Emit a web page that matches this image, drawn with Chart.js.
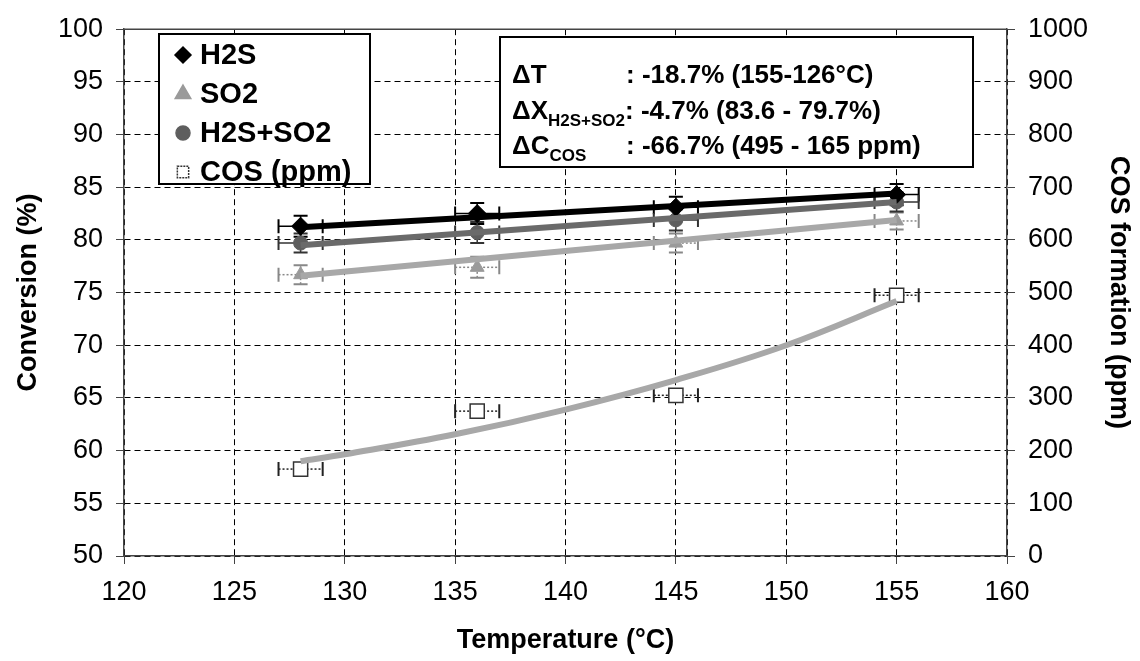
<!DOCTYPE html>
<html>
<head>
<meta charset="utf-8">
<script src="https://cdn.jsdelivr.net/npm/chart.js@4.4.1/dist/chart.umd.min.js"></script>
<style>
  html, body { margin: 0; padding: 0; background: #fff; }
</style>
</head>
<body>
<canvas id="convChart" width="1140" height="661"></canvas>
<script>
// measured points
const temps = [128, 136, 145, 155];
const h2s = [81.3, 82.5, 83.1, 84.3];
const so2 = [76.7, 77.4, 79.7, 81.8];
const h2sSo2 = [79.7, 80.7, 81.9, 83.6];
const cosPpm = [165, 275, 305, 495];

// error bars
const tempErr = [1, 1, 1, 1];
const h2sErr = [1.0, 1.0, 1.0, 1.0];
const so2Err = [0.9, 1.0, 0.9, 0.8];
const h2sSo2Err = [0.9, 1.0, 1.0, 0.9];

// trend lines
const trendTemps = [128, 155];
const h2sTrend = [81.2, 84.4];
const so2Trend = [76.6, 81.9];
const h2sSo2Trend = [79.5, 83.6];
const cosTrendTemps = [128, 130, 135, 140, 145, 150, 155];
const cosTrend = [180, 193, 231, 278, 334, 400, 484];

const FONT = "'Liberation Sans', Arial, sans-serif";

const pts = (xs, ys) => xs.map((x, i) => ({ x: x, y: ys[i] }));

const errorBars = {
    id: "errorBars",
    beforeDatasetsDraw(chart) {
        const ctx = chart.ctx;
        chart.data.datasets.forEach(ds => {
            if (!ds.errX) return;
            const ys = chart.scales[ds.yAxisID || "y"];
            const xs = chart.scales.x;
            ds.data.forEach((p, i) => {
                const px = xs.getPixelForValue(p.x);
                const py = ys.getPixelForValue(p.y);
                ctx.save();
                ctx.strokeStyle = ds.errColor;
                ctx.lineWidth = 1.5;
                ctx.setLineDash(ds.errDash || []);
                const x0 = xs.getPixelForValue(p.x - ds.errX[i]);
                const x1 = xs.getPixelForValue(p.x + ds.errX[i]);
                ctx.beginPath();
                ctx.moveTo(x0, py); ctx.lineTo(x1, py);
                ctx.stroke();
                ctx.setLineDash([]);
                ctx.lineWidth = 2;
                ctx.beginPath();
                ctx.moveTo(x0, py - 7); ctx.lineTo(x0, py + 7);
                ctx.moveTo(x1, py - 7); ctx.lineTo(x1, py + 7);
                ctx.stroke();
                if (ds.errY) {
                    const y0 = ys.getPixelForValue(p.y - ds.errY[i]);
                    const y1 = ys.getPixelForValue(p.y + ds.errY[i]);
                    ctx.lineWidth = 1.5;
                    ctx.setLineDash(ds.errDash || []);
                    ctx.beginPath();
                    ctx.moveTo(px, y0); ctx.lineTo(px, y1);
                    ctx.stroke();
                    ctx.setLineDash([]);
                    ctx.lineWidth = 2;
                    ctx.beginPath();
                    ctx.moveTo(px - 7, y0); ctx.lineTo(px + 7, y0);
                    ctx.moveTo(px - 7, y1); ctx.lineTo(px + 7, y1);
                    ctx.stroke();
                }
                ctx.restore();
            });
        });
    }
};

const boxes = {
    id: "boxes",
    afterDraw(chart) {
        const ctx = chart.ctx;
        const a = chart.chartArea;
        ctx.save();
        // top frame line
        ctx.strokeStyle = "#444";
        ctx.lineWidth = 1.5;
        ctx.beginPath();
        ctx.moveTo(a.left, a.top); ctx.lineTo(a.right, a.top);
        ctx.stroke();

        // legend
        ctx.fillStyle = "#fff";
        ctx.fillRect(159, 34, 211, 150);
        ctx.strokeStyle = "#000";
        ctx.lineWidth = 2;
        ctx.strokeRect(159, 34, 211, 150);
        const items = chart.data.datasets.filter(d => d.legendRow !== undefined);
        items.forEach(d => {
            const y = 55 + d.legendRow * 39;
            ctx.fillStyle = d.backgroundColor;
            ctx.strokeStyle = d.borderColor;
            ctx.lineWidth = 1.5;
            ctx.setLineDash(d.legendDash || []);
            Chart.helpers.drawPoint(ctx, {
                pointStyle: d.pointStyle, radius: d.legendRadius || 7, rotation: 0, borderWidth: 1.5
            }, 183, y);
            ctx.setLineDash([]);
            ctx.fillStyle = "#000";
            ctx.font = "bold 29px " + FONT;
            ctx.textBaseline = "middle";
            ctx.fillText(d.label, 200, y + 1);
        });

        // annotation box
        ctx.fillStyle = "#fff";
        ctx.fillRect(500, 37, 473, 130);
        ctx.strokeStyle = "#000";
        ctx.lineWidth = 2;
        ctx.strokeRect(500, 37, 473, 130);
        ctx.fillStyle = "#000";
        ctx.textBaseline = "alphabetic";
        const big = "bold 26px " + FONT;
        const small = "bold 17px " + FONT;
        ctx.font = big;
        ctx.fillText("\u0394T", 512, 83);
        ctx.fillText(": -18.7% (155-126\u00b0C)", 626, 83);
        ctx.fillText("\u0394X", 512, 119);
        let w = ctx.measureText("\u0394X").width;
        ctx.font = small;
        ctx.fillText("H2S+SO2", 512 + w, 126);
        const w2 = ctx.measureText("H2S+SO2").width;
        ctx.font = big;
        ctx.fillText(": -4.7% (83.6 - 79.7%)", 512 + w + w2, 119);
        ctx.fillText("\u0394C", 512, 154);
        w = ctx.measureText("\u0394C").width;
        ctx.font = small;
        ctx.fillText("COS", 512 + w, 161);
        ctx.font = big;
        ctx.fillText(": -66.7% (495 - 165 ppm)", 626, 154);
        ctx.restore();
    }
};

new Chart(document.getElementById("convChart"), {
    type: "scatter",
    data: {
        datasets: [
            {
                label: "SO2 trend", data: pts(trendTemps, so2Trend), showLine: true,
                borderColor: "#a8a8a8", borderWidth: 6, pointRadius: 0, yAxisID: "y"
            },
            {
                label: "H2S+SO2 trend", data: pts(trendTemps, h2sSo2Trend), showLine: true,
                borderColor: "#6a6a6a", borderWidth: 6, pointRadius: 0, yAxisID: "y"
            },
            {
                label: "H2S trend", data: pts(trendTemps, h2sTrend), showLine: true,
                borderColor: "#000", borderWidth: 6, pointRadius: 0, yAxisID: "y"
            },
            {
                label: "COS trend", data: pts(cosTrendTemps, cosTrend), showLine: true,
                borderColor: "#a8a8a8", borderWidth: 6, pointRadius: 0, yAxisID: "y2",
                tension: 0.4
            },
            {
                label: "H2S", data: pts(temps, h2s), legendRow: 0, legendRadius: 8,
                pointStyle: "rectRot", pointRadius: 9, backgroundColor: "#000", borderColor: "#000",
                yAxisID: "y", errX: tempErr, errY: h2sErr, errColor: "#000"
            },
            {
                label: "SO2", data: pts(temps, so2), legendRow: 1, legendRadius: 9,
                pointStyle: "triangle", pointRadius: 8, backgroundColor: "#9a9a9a", borderColor: "#9a9a9a",
                yAxisID: "y", errX: tempErr, errY: so2Err, errColor: "#888", errDash: [2, 2]
            },
            {
                label: "H2S+SO2", data: pts(temps, h2sSo2), legendRow: 2,
                pointStyle: "circle", pointRadius: 7, backgroundColor: "#5e5e5e", borderColor: "#5e5e5e",
                yAxisID: "y", errX: tempErr, errY: h2sSo2Err, errColor: "#333"
            },
            {
                label: "COS (ppm)", data: pts(temps, cosPpm), legendRow: 3, legendRadius: 8,
                pointStyle: "rect", pointRadius: 10, backgroundColor: "#fff", borderColor: "#333",
                borderWidth: 1.5, legendDash: [2, 1],
                yAxisID: "y2", errX: tempErr, errColor: "#222", errDash: [2, 2]
            }
        ]
    },
    options: {
        responsive: false,
        animation: false,
        devicePixelRatio: 1,
        layout: { padding: { top: 23, left: 0, right: 0, bottom: 0 } },
        plugins: { legend: { display: false }, tooltip: { enabled: false } },
        scales: {
            x: {
                type: "linear", min: 120, max: 160,
                afterFit: s => { s.height = 105; },
                ticks: { stepSize: 5, color: "#000", padding: 12, font: { family: FONT, size: 27 } },
                grid: { color: "#000", lineWidth: 1, tickLength: 8, tickBorderDash: [], tickColor: "#444" },
                border: { color: "#444", width: 1.5, dash: [6, 4] },
                title: { display: true, text: "Temperature (\u00b0C)", color: "#000",
                         font: { family: FONT, size: 27, weight: "bold" }, padding: { top: 6 } }
            },
            y: {
                position: "left", min: 50, max: 100,
                afterFit: s => { s.width = 124; },
                ticks: { stepSize: 5, color: "#000", padding: 13, font: { family: FONT, size: 27 } },
                grid: { color: "#000", lineWidth: 1, tickLength: 8, tickColor: "#444" },
                border: { color: "#444", width: 1.5, dash: [6, 4] },
                title: { display: true, text: "Conversion (%)", color: "#000",
                         font: { family: FONT, size: 27, weight: "bold" }, padding: { top: 12, bottom: 0 } }
            },
            y2: {
                position: "right", min: 0, max: 1000,
                afterFit: s => { s.width = 133; },
                ticks: { stepSize: 100, color: "#000", padding: 13, font: { family: FONT, size: 27 },
                         callback: v => String(v) },
                grid: { drawOnChartArea: false, tickLength: 8, color: "#444" },
                border: { color: "#444", width: 1.5 },
                title: { display: true, text: "COS formation (ppm)", color: "#000",
                         font: { family: FONT, size: 27, weight: "bold" }, padding: { top: 5, bottom: 0 } }
            }
        }
    },
    plugins: [errorBars, boxes]
});
</script>
</body>
</html>
